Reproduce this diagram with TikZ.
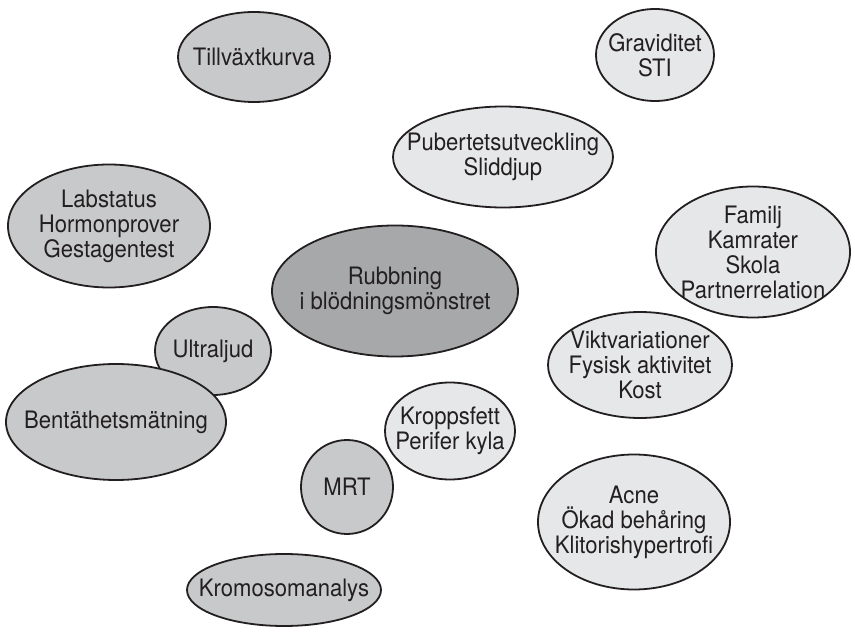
\documentclass[tikz,border=0pt]{standalone}
\usepackage{fontspec}
\setmainfont{TeX Gyre Heros}[FakeStretch=0.92]
\usetikzlibrary{shapes.geometric}
\definecolor{midgray}{HTML}{C8C9CA}
\definecolor{lightgray}{HTML}{E6E7E8}
\definecolor{darkgray}{HTML}{A7A8AA}
\definecolor{ink}{HTML}{231F20}
\tikzset{
  bub/.style={ellipse, draw=ink, line width=1.8pt, inner sep=0pt, outer sep=0pt},
  diag/.style={bub, fill=midgray},
  fact/.style={bub, fill=lightgray},
  core/.style={bub, fill=darkgray},
  txt/.style={align=center, text=ink, inner sep=0pt, font=\fontsize{24}{25}\selectfont},
}
\begin{document}
\begin{tikzpicture}[x=1pt,y=1pt]
\useasboundingbox (0,0) rectangle (855,638);
\node[diag, minimum width=152pt, minimum height=90pt] (tillvaxt) at (254,581) {};
\node[txt] at (tillvaxt) {Tillväxtkurva};
\node[fact, minimum width=118pt, minimum height=92pt] (grav) at (655,583) {};
\node[txt] at (grav) {Graviditet\\STI};
\node[fact, minimum width=220pt, minimum height=101pt] (pub) at (503,481) {};
\node[txt] at (pub) {Pubertetsutveckling\\Sliddjup};
\node[diag, minimum width=202pt, minimum height=123pt] (lab) at (109,412) {};
\node[txt] at (lab) {Labstatus\\Hormonprover\\Gestagentest};
\node[fact, minimum width=194pt, minimum height=131pt] (fam) at (753,386) {};
\node[txt] at (fam) {Familj\\Kamrater\\Skola\\Partnerrelation};
\node[core, minimum width=246pt, minimum height=131pt] (rub) at (395,347) {};
\node[txt] at (rub) {Rubbning\\i blödningsmönstret};
\node[diag, minimum width=116pt, minimum height=88pt] (ultra) at (213,287) {};
\node[txt] at (ultra) {Ultraljud};
\node[fact, minimum width=184pt, minimum height=106pt] (vikt) at (640,273) {};
\node[txt] at (vikt) {Viktvariationer\\Fysisk aktivitet\\Kost};
\node[diag, minimum width=220pt, minimum height=116pt] (bent) at (116,216) {};
\node[txt] at (bent) {Bentäthetsmätning};
\node[fact, minimum width=130pt, minimum height=97pt] (kropp) at (450,207) {};
\node[txt] at (kropp) {Kroppsfett\\Perifer kyla};
\node[diag, minimum width=92pt, minimum height=94pt] (mrt) at (347,151) {};
\node[txt] at (mrt) {MRT};
\node[fact, minimum width=192pt, minimum height=135pt] (acne) at (634,116) {};
\node[txt] at (acne) {Acne\\Ökad behåring\\Klitorishypertrofi};
\node[diag, minimum width=194pt, minimum height=72pt] (krom) at (284,48) {};
\node[txt] at (krom) {Kromosomanalys};
\end{tikzpicture}
\end{document}
